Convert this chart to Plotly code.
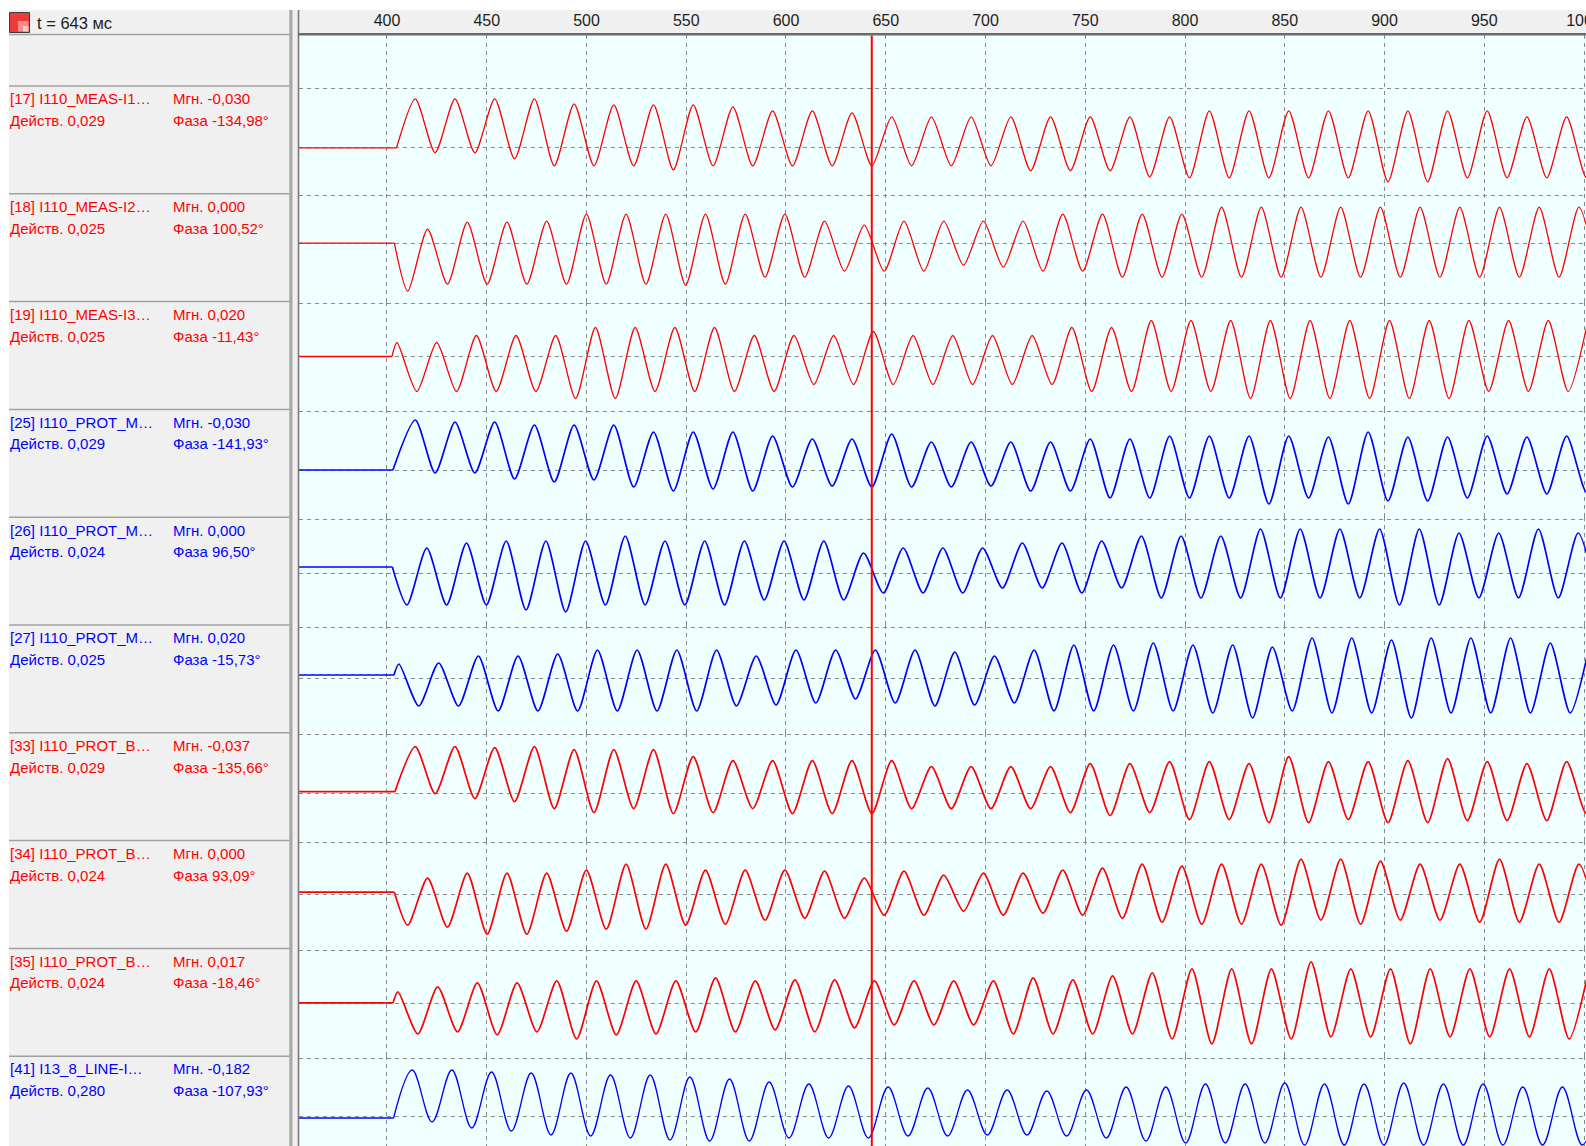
import plotly.graph_objects as go

# ---------------------------------------------------------------------------
# Oscillogram: currents after fault inception, cursor at t = 643 ms
# ---------------------------------------------------------------------------
CURSOR_MS = 643
X_TICKS = [400, 450, 500, 550, 600, 650, 700, 750, 800, 850, 900, 950, 1000]
T_MIN, T_MAX = 355.9, 1001.0

CH_IDS = [17, 18, 19, 25, 26, 27, 33, 34, 35, 41]
CH_NAMES = ["I110_MEAS-I1…", "I110_MEAS-I2…", "I110_MEAS-I3…",
            "I110_PROT_M…", "I110_PROT_M…", "I110_PROT_M…",
            "I110_PROT_B…", "I110_PROT_B…", "I110_PROT_B…",
            "I13_8_LINE-I…"]
MGN = [-0.030, 0.000, 0.020, -0.030, 0.000, 0.020, -0.037, 0.000, 0.017, -0.182]
RMS = [0.029, 0.025, 0.025, 0.029, 0.024, 0.025, 0.029, 0.024, 0.024, 0.280]
PHASE = [-134.98, 100.52, -11.43, -141.93, 96.50, -15.73, -135.66, 93.09, -18.46, -107.93]

# sample codes -> kA multiplier per channel
MULT = [0.00167, 0.001, 0.001, 0.00176, 0.001, 0.001, 0.00185, 0.001, 0.001, 0.014]
# pre-fault level (codes) and time the disturbance starts (ms)
BASE = [0, 0, 0, 0, 6, 3, 2, 2, 1, -2]
ONSET = [404.8, 403.7, 402.5, 403.0, 402.7, 403.5, 404.0, 403.7, 403.0, 403.3]
# extrema of the waveform: time of first extremum and half-period (ms)
T_FIRST = [414.2, 410.4, 405.0, 414.2, 410.0, 406.0, 414.2, 410.4, 405.5, 412.65]
HALF_PERIOD = [9.95, 9.95, 9.95, 9.95, 9.95, 9.95, 9.95, 9.95, 9.95, 9.94]

# successive peak / trough values of each channel (codes)
CH17 = [49, -5, 49, -5, 49, -11, 49, -18, 44, -18,
        43, -18, 43, -22, 43, -18, 41, -18, 37, -18,
        37, -18, 35, -18, 31, -18, 31, -18, 31, -18,
        31, -23, 31, -23, 31, -23, 31, -29, 31, -30,
        37, -30, 37, -30, 37, -30, 37, -30, 37, -34,
        37, -34, 37, -30, 37, -30, 31, -30, 31, -30, 31]
CH18 = [-48, 14, -41, 21, -41, 21, -41, 22, -41, 29,
        -41, 29, -41, 29, -42, 29, -41, 29, -34, 29,
        -34, 22, -28, 18, -28, 22, -28, 22, -22, 22,
        -24, 22, -28, 29, -28, 29, -34, 29, -34, 29,
        -34, 36, -34, 36, -34, 36, -34, 36, -34, 36,
        -34, 36, -34, 36, -34, 36, -34, 36, -34, 36, -34]
CH19 = [14, -35, 14, -35, 21, -35, 21, -35, 21, -42,
        29, -42, 29, -35, 29, -35, 29, -35, 21, -35,
        21, -28, 21, -28, 25, -28, 21, -28, 21, -28,
        21, -28, 21, -28, 29, -35, 29, -35, 36, -35,
        36, -35, 36, -42, 36, -42, 36, -42, 36, -42,
        36, -42, 36, -42, 36, -35, 36, -35, 36, -35, 36]
CH25 = [50, -3, 48, -3, 48, -9, 45, -12, 45, -10,
        45, -17, 38, -21, 38, -19, 38, -21, 34, -17,
        31, -16, 31, -17, 36, -17, 28, -17, 28, -16,
        28, -21, 28, -21, 31, -28, 31, -28, 34, -28,
        34, -28, 34, -34, 34, -28, 33, -34, 38, -31,
        33, -31, 33, -28, 34, -24, 33, -24, 34, -22, 33]
CH26 = [-32, 25, -32, 30, -32, 32, -37, 32, -39, 32,
        -32, 37, -32, 32, -32, 32, -32, 32, -27, 32,
        -27, 32, -27, 20, -20, 25, -20, 25, -20, 25,
        -15, 30, -15, 30, -20, 32, -15, 37, -25, 37,
        -25, 37, -25, 44, -25, 44, -25, 44, -25, 44,
        -32, 44, -32, 40, -25, 40, -25, 44, -25, 40, -25]
CH27 = [14, -28, 15, -28, 22, -33, 22, -33, 24, -33,
        28, -33, 28, -33, 28, -33, 28, -28, 22, -27,
        28, -25, 28, -21, 28, -25, 28, -28, 26, -27,
        22, -25, 28, -33, 33, -33, 33, -33, 35, -33,
        33, -35, 33, -40, 31, -33, 40, -35, 40, -35,
        38, -40, 40, -35, 40, -35, 40, -35, 35, -35, 35]
CH33 = [47, 0, 47, -5, 46, -8, 47, -15, 44, -19,
        44, -15, 44, -20, 37, -19, 33, -15, 33, -20,
        33, -20, 33, -20, 33, -15, 27, -15, 27, -15,
        27, -15, 27, -19, 30, -22, 30, -19, 32, -26,
        32, -26, 30, -29, 37, -29, 32, -26, 32, -29,
        33, -29, 35, -27, 32, -27, 30, -27, 32, -20, 32]
CH34 = [-31, 16, -33, 21, -40, 21, -40, 21, -37, 24,
        -35, 30, -35, 30, -31, 24, -30, 24, -26, 24,
        -24, 23, -24, 16, -21, 23, -21, 19, -17, 21,
        -21, 21, -19, 24, -21, 26, -24, 30, -28, 28,
        -30, 30, -30, 30, -31, 35, -26, 35, -30, 33,
        -26, 30, -26, 30, -28, 35, -28, 30, -28, 30, -28]
CH35 = [12, -30, 17, -28, 21, -31, 21, -28, 23, -35,
        23, -31, 23, -30, 23, -28, 26, -28, 23, -26,
        24, -28, 24, -24, 23, -21, 23, -21, 23, -21,
        23, -30, 26, -30, 24, -30, 28, -30, 31, -35,
        35, -40, 35, -40, 35, -35, 42, -33, 35, -33,
        35, -40, 35, -33, 35, -33, 35, -33, 35, -35, 35]
CH41 = [46, -6, 46, -12, 44, -15, 43, -19, 43, -20,
        41, -22, 41, -24, 39, -25, 37, -25, 34, -22,
        32, -22, 30, -22, 29, -20, 28, -20, 26, -19,
        26, -19, 25, -20, 26, -22, 29, -25, 29, -27,
        32, -27, 32, -27, 33, -29, 32, -29, 32, -29,
        33, -29, 32, -29, 32, -29, 29, -29, 29, -29, 29]
CH_DATA = [CH17, CH18, CH19, CH25, CH26, CH27, CH33, CH34, CH35, CH41]

RED, BLUE = "#FF0000", "#0000FF"
CH_COLORS = [RED, RED, RED, BLUE, BLUE, BLUE, RED, RED, RED, BLUE]

# ---------------------------------------------------------------------------
# Page geometry (pixels)
# ---------------------------------------------------------------------------
W, H = 1586, 1146
PANEL_LEFT = 9          # white border on the left
HEADER_TOP = 10         # white border on top
PLOT_LEFT = 299
PLOT_TOP = 35
ROW0 = 86               # top of the first visible channel row
ROW_H = 107.8
ZERO_OFF = [61.8, 49.4, 54.9, 60.6, 55.8, 53.0, 60.8, 53.6, 55.5, 59.8]
GRID = "#8A8A8A"
FONT = "Liberation Sans, Arial, sans-serif"


def px(x):
    return x / W


def py(y):
    return 1 - y / H


def fmt(v, nd=3):
    return f"{v:.{nd}f}".replace(".", ",")


fig = go.Figure()
layout_axes = {}

for i, ch in enumerate(CH_IDS):
    m = MULT[i]
    vals = CH_DATA[i]
    yname = "y" if i == 0 else f"y{i + 1}"
    prot = CH_NAMES[i].startswith("I110_PROT")
    width = 1.7 if prot else 1.3
    # pre-fault level
    fig.add_trace(go.Scatter(
        x=[T_MIN - 5, ONSET[i]], y=[BASE[i] * m, BASE[i] * m], mode="lines",
        xaxis="x", yaxis=yname, line=dict(color=CH_COLORS[i], width=width),
        hoverinfo="skip", showlegend=False))
    # fault current
    t = [ONSET[i]] + [T_FIRST[i] + HALF_PERIOD[i] * k for k in range(len(vals))]
    y = [BASE[i] * m] + [v * m for v in vals]
    fig.add_trace(go.Scatter(
        x=t, y=y, mode="lines", xaxis="x", yaxis=yname,
        line=dict(color=CH_COLORS[i], width=width, shape="spline",
                  smoothing=1.0 if ch == 41 else 0.7),
        hoverinfo="skip", showlegend=False, name=f"[{ch}]"))

    row_top = ROW0 + i * ROW_H
    dom_top = PLOT_TOP if i == 0 else row_top
    dom_bot = min(row_top + ROW_H, H)
    zero_px = row_top + ZERO_OFF[i]
    rng = [-(dom_bot - zero_px) * m, (zero_px - dom_top) * m]
    key = "yaxis" if i == 0 else f"yaxis{i + 1}"
    layout_axes[key] = dict(
        domain=[py(dom_bot), py(dom_top)], range=rng, anchor="x",
        tickvals=[0, (ZERO_OFF[i] - 2) * m], showticklabels=False, ticks="",
        showgrid=True, gridcolor=GRID, gridwidth=1, griddash="4px,4px",
        zeroline=False, showline=False, fixedrange=True)

layout_axes["xaxis"] = dict(
    domain=[px(PLOT_LEFT), 1], range=[T_MIN, T_MAX], anchor="y", side="top",
    tickvals=X_TICKS, ticktext=[str(v) for v in X_TICKS], ticks="",
    ticklabelstandoff=5, ticklabeloverflow="allow",
    tickfont=dict(family=FONT, size=16, color="#1E1E1E"),
    showgrid=True, gridcolor=GRID, gridwidth=1, griddash="4px,4px",
    zeroline=False, showline=False, fixedrange=True, automargin=False)

shapes = []
# white outer border
shapes.append(dict(type="rect", xref="paper", yref="paper", x0=0, x1=1,
                   y0=py(HEADER_TOP), y1=1, fillcolor="white", line_width=0, layer="above"))
shapes.append(dict(type="rect", xref="paper", yref="paper", x0=0, x1=px(PANEL_LEFT),
                   y0=0, y1=1, fillcolor="white", line_width=0, layer="above"))
# label panel: header separator and row separators
shapes.append(dict(type="line", xref="paper", yref="paper", x0=px(PANEL_LEFT), x1=px(289.5),
                   y0=py(34.5), y1=py(34.5), line=dict(color="#A0A0A0", width=1.5)))
for i in range(len(CH_IDS)):
    yy = ROW0 + i * ROW_H
    shapes.append(dict(type="line", xref="paper", yref="paper", x0=px(PANEL_LEFT), x1=px(289.5),
                       y0=py(yy), y1=py(yy), line=dict(color="#A0A0A0", width=1.5)))
# splitter between label panel and plot
shapes.append(dict(type="rect", xref="paper", yref="paper", x0=px(289.3), x1=px(292.5),
                   y0=0, y1=py(HEADER_TOP), fillcolor="#A8A8A8", line_width=0))
shapes.append(dict(type="line", xref="paper", yref="paper", x0=px(298.5), x1=px(298.5),
                   y0=0, y1=py(HEADER_TOP), line=dict(color="#7A7A7A", width=1.6)))
# top border of the plot
shapes.append(dict(type="line", xref="paper", yref="paper", x0=px(298), x1=1,
                   y0=py(34.3), y1=py(34.3), line=dict(color="#6A6A6A", width=2.5)))
# time cursor
shapes.append(dict(type="line", xref="x", yref="paper", x0=CURSOR_MS, x1=CURSOR_MS,
                   y0=0, y1=py(35.5), line=dict(color="#FF0000", width=2), layer="above"))
# cursor colour marker in the header
shapes.append(dict(type="rect", xref="paper", yref="paper", x0=px(9.5), x1=px(29.5),
                   y0=py(32.5), y1=py(12.5), fillcolor="#EE3A3A",
                   line=dict(color="#3A3A3A", width=1)))
shapes.append(dict(type="rect", xref="paper", yref="paper", x0=px(18), x1=px(28.5),
                   y0=py(31.5), y1=py(21), fillcolor="#F58C8C", line_width=0))
shapes.append(dict(type="rect", xref="paper", yref="paper", x0=px(23), x1=px(28.5),
                   y0=py(31.5), y1=py(26), fillcolor="#FBC8C8", line_width=0))

annotations = [dict(xref="paper", yref="paper", x=px(35), y=py(23.5), xanchor="left",
                    yanchor="middle", showarrow=False, text=f"t = {CURSOR_MS} мс",
                    font=dict(family=FONT, size=16.5, color="#1E1E1E"))]
for i, ch in enumerate(CH_IDS):
    top = ROW0 + i * ROW_H
    c = CH_COLORS[i]
    items = [
        (PANEL_LEFT - 1, top + 12.8, f"[{ch}] {CH_NAMES[i]}"),
        (170.5, top + 12.8, f"Мгн. {fmt(MGN[i])}"),
        (PANEL_LEFT - 1, top + 34.5, f"Действ. {fmt(RMS[i])}"),
        (170.5, top + 34.5, f"Фаза {fmt(PHASE[i], 2)}°"),
    ]
    for x, y, txt in items:
        annotations.append(dict(xref="paper", yref="paper", x=px(x), y=py(y),
                                xanchor="left", yanchor="middle", showarrow=False,
                                text=txt, font=dict(family=FONT, size=15, color=c)))

fig.update_layout(
    width=W, height=H, margin=dict(l=0, r=0, t=0, b=0),
    paper_bgcolor="#F0F0F0", plot_bgcolor="#F0FFFF",
    shapes=shapes, annotations=annotations, showlegend=False,
    **layout_axes)

fig.write_html("out.html")
